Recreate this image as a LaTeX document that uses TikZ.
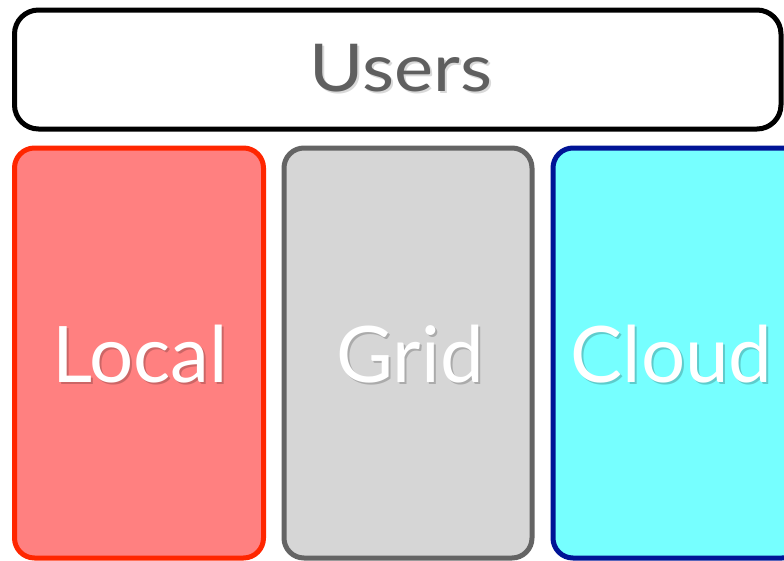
\documentclass[tikz,border=0pt]{standalone}
\usepackage{fontspec}
\setmainfont{Lato}
\definecolor{localfill}{RGB}{255,128,128}
\definecolor{localdraw}{RGB}{255,38,0}
\definecolor{gridfill}{RGB}{214,214,214}
\definecolor{griddraw}{RGB}{100,100,100}
\definecolor{cloudfill}{RGB}{118,255,255}
\definecolor{clouddraw}{RGB}{0,20,150}
\definecolor{usertext}{RGB}{95,95,95}
\tikzset{
  panel/.style={draw, line width=5pt, rounded corners=20pt, inner sep=0pt},
  label/.style={anchor=base, inner sep=0pt, font=\fontsize{78}{80}\selectfont, text=white},
  shadowlbl/.style={anchor=base, inner sep=0pt, font=\fontsize{78}{80}\selectfont, text=black, opacity=0.2},
}
\begin{document}
\begin{tikzpicture}[x=1pt,y=-1pt]
\useasboundingbox (0,0) rectangle (784,560);
\fill[white] (0,0) rectangle (784,560);
% Users
\node[panel, draw=black, fill=white, rounded corners=24pt, minimum width=766.5pt, minimum height=119pt] (users) at (397.75,69.5) {};
\node[shadowlbl, font=\fontsize{66}{68}\selectfont, opacity=0.15] (userssh) at (403,93.5) {\scalebox{1.12}[1]{Users}};
\node[label, font=\fontsize{66}{68}\selectfont, text=usertext] (userstxt) at (401,91) {\scalebox{1.12}[1]{Users}};
% Local
\node[panel, draw=localdraw, fill=localfill, minimum width=249pt, minimum height=410pt] (local) at (139,353) {};
\node[shadowlbl] (localsh) at (142,384.5) {Local};
\node[label] (localtxt) at (140,382) {Local};
% Grid
\node[panel, draw=griddraw, fill=gridfill, minimum width=248pt, minimum height=410pt] (grid) at (408,353) {};
\node[shadowlbl] (gridsh) at (412,384.5) {Grid};
\node[label] (gridtxt) at (410,382) {Grid};
% Cloud
\node[panel, draw=clouddraw, fill=cloudfill, minimum width=249pt, minimum height=410pt] (cloud) at (677.5,353) {};
\node[shadowlbl] (cloudsh) at (673.5,384.5) {Cloud};
\node[label] (cloudtxt) at (671.5,382) {Cloud};
\end{tikzpicture}
\end{document}
